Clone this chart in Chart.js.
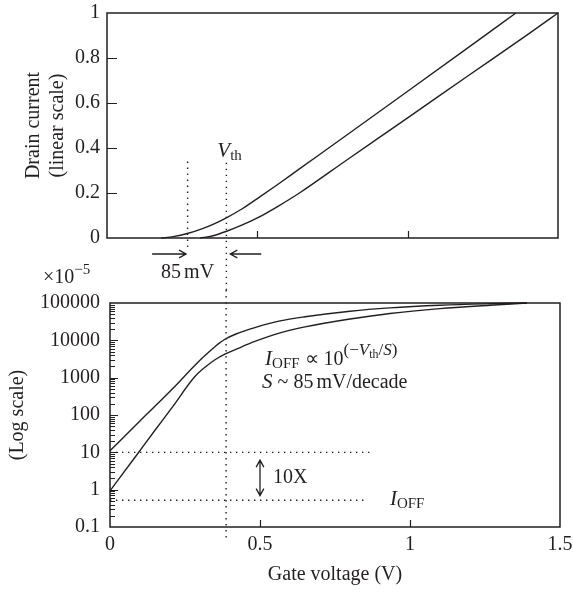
<!DOCTYPE html>
<html>
<head>
<meta charset="utf-8">
<script src="https://cdn.jsdelivr.net/npm/chart.js@4.4.1/dist/chart.umd.min.js"></script>
<style>
  html, body { margin: 0; padding: 0; background: #fff; }
  #wrap { position: relative; width: 573px; height: 592px; }
  canvas { position: absolute; left: 0; }
  #linChart { top: 0; }
  #logChart { top: 290px; }
</style>
</head>
<body>
<div id="wrap">
  <canvas id="linChart" width="573" height="290"></canvas>
  <canvas id="logChart" width="573" height="302"></canvas>
</div>
<script>
// values: gate voltage (V) vs drain current
// "low" = device with the lower threshold (left curve), "high" = shifted by ~85 mV
const linVgLow  = [0.18, 0.22, 0.27, 0.32, 0.36, 0.40, 0.45, 0.50, 0.57, 0.64, 0.80, 1.00, 1.20, 1.36];
const linIdLow  = [0, 0.006, 0.021, 0.043, 0.065, 0.092, 0.130, 0.175, 0.240, 0.307, 0.460, 0.652, 0.845, 1.0];
const linVgHigh = [0.31, 0.35, 0.40, 0.45, 0.50, 0.57, 0.64, 0.80, 1.00, 1.20, 1.40, 1.50];
const linIdHigh = [0, 0.009, 0.031, 0.058, 0.089, 0.142, 0.200, 0.349, 0.534, 0.720, 0.905, 1.0];

// log panel, current in units of 1e-5
const logVgLow  = [0, 0.094, 0.206, 0.294, 0.34, 0.36, 0.383, 0.42, 0.483, 0.567, 0.65, 0.80, 0.933, 1.10, 1.267, 1.39];
const logIdLow  = [11, 62, 480, 2630, 5750, 7900, 10700, 14800, 21900, 33100, 42700, 60300, 74100, 87100, 95500, 100000];
const logVgHigh = [0, 0.089, 0.15, 0.206, 0.283, 0.32, 0.35, 0.383, 0.42, 0.483, 0.567, 0.65, 0.80, 0.933, 1.10, 1.267, 1.39];
const logIdHigh = [0.93, 8.5, 39, 155, 1070, 2000, 3020, 4270, 5750, 9330, 15800, 22900, 37200, 52500, 70800, 87100, 100000];

const linYTicks = [0, 0.2, 0.4, 0.6, 0.8, 1];
const logYTicks = [0.1, 1, 10, 100, 1000, 10000, 100000];
const xTicks = [0, 0.5, 1, 1.5];

const VTH_SHIFTED = 0.268;   // left dotted guide (top panel)
const VTH_TOP = 0.397;       // V_th guide in the top panel
const VTH_BOT = 0.387;       // same guide in the log panel
const IOFF_A = 10, IOFF_B = 0.52;

const INK = '#231f20';
const SERIF = '"Liberation Serif", "Times New Roman", serif';

function pts(xs, ys) { return xs.map((x, i) => ({ x: x, y: ys[i] })); }

const lineStyle = {
  borderColor: INK, borderWidth: 1.4, pointRadius: 0,
  cubicInterpolationMode: 'monotone', fill: false, clip: 4
};

function dotted(ctx, x1, y1, x2, y2) {
  ctx.save();
  ctx.strokeStyle = INK;
  ctx.lineWidth = 1.4;
  ctx.setLineDash([1.4, 4.6]);
  ctx.beginPath(); ctx.moveTo(x1, y1); ctx.lineTo(x2, y2); ctx.stroke();
  ctx.restore();
}

function head(ctx, x, y, ang) {
  const L = 8, w = 0.5;
  ctx.moveTo(x - L * Math.cos(ang - w), y - L * Math.sin(ang - w));
  ctx.lineTo(x, y);
  ctx.lineTo(x - L * Math.cos(ang + w), y - L * Math.sin(ang + w));
}

function arrow(ctx, x1, y1, x2, y2, both) {
  const ang = Math.atan2(y2 - y1, x2 - x1);
  ctx.save();
  ctx.strokeStyle = INK; ctx.lineWidth = 1.3;
  ctx.beginPath();
  ctx.moveTo(x1, y1); ctx.lineTo(x2, y2);
  head(ctx, x2, y2, ang);
  if (both) head(ctx, x1, y1, ang + Math.PI);
  ctx.stroke();
  ctx.restore();
}

// draw a run of text pieces (italics, sub/superscripts) from left to right
function runs(ctx, x, y, parts) {
  ctx.save();
  ctx.fillStyle = INK;
  ctx.textBaseline = 'alphabetic';
  ctx.textAlign = 'left';
  for (const p of parts) {
    ctx.font = (p.it ? 'italic ' : '') + (p.sz || 20) + 'px ' + SERIF;
    ctx.fillText(p.t, x, y + (p.dy || 0));
    x += ctx.measureText(p.t).width + (p.gap || 0);
  }
  ctx.restore();
}

// box round the plot area plus the small inward tick marks
const frame = {
  id: 'frame',
  afterDatasetsDraw(chart, args, opts) {
    const { ctx, chartArea: a, scales } = chart;
    ctx.save();
    ctx.strokeStyle = INK;
    ctx.lineWidth = 1.5;
    ctx.strokeRect(a.left, a.top, a.right - a.left, a.bottom - a.top);
    ctx.lineWidth = 1.2;
    ctx.beginPath();
    for (const m of opts.yMarks) {
      const py = Math.round(scales.y.getPixelForValue(m.v)) + 0.5;
      ctx.moveTo(a.left, py); ctx.lineTo(a.left + m.len, py);
    }
    for (const v of opts.xMarks) {
      const px = Math.round(scales.x.getPixelForValue(v)) + 0.5;
      ctx.moveTo(px, a.bottom); ctx.lineTo(px, a.bottom - 7);
    }
    ctx.stroke();
    ctx.restore();
  }
};

const tickFont = { family: SERIF, size: 20 };
const titleFont = { family: SERIF, size: 20 };

// log panel marks: every 1..9 x decade, longer at decades
const logMarks = [];
for (let d = -1; d <= 4; d++) {
  for (let k = 1; k <= 9; k++) {
    const v = k * Math.pow(10, d);
    if (d === -1 && k === 1) continue;
    logMarks.push({ v: v, len: k === 1 ? 8 : 5 });
  }
}

// keep the chart area where layout.padding puts it
function fitY(w) { return s => { s.width = w; s.paddingTop = 0; s.paddingBottom = 0; }; }
function fitX(h) { return s => { s.height = h; s.paddingLeft = 0; s.paddingRight = 0; }; }

// ---------- top: linear scale ----------
new Chart(document.getElementById('linChart'), {
  type: 'line',
  data: {
    datasets: [
      Object.assign({ label: 'low Vth', data: pts(linVgLow, linIdLow) }, lineStyle),
      Object.assign({ label: 'high Vth', data: pts(linVgHigh, linIdHigh) }, lineStyle)
    ]
  },
  options: {
    responsive: false,
    devicePixelRatio: 1,
    animation: false,
    events: [],
    layout: { padding: { top: 13, right: 15, bottom: 0, left: 0 } },
    plugins: {
      legend: { display: false },
      tooltip: { enabled: false },
      frame: {
        yMarks: linYTicks.slice(1, -1).map(v => ({ v: v, len: 10 })),
        xMarks: [0.5, 1]
      }
    },
    scales: {
      x: {
        type: 'linear', min: 0, max: 1.5,
        ticks: { display: false },
        grid: { display: false, drawTicks: false },
        border: { display: false },
        afterFit: fitX(52)
      },
      y: {
        type: 'linear', min: 0, max: 1,
        afterBuildTicks(s) { s.ticks = linYTicks.map(v => ({ value: v })); },
        ticks: { font: tickFont, color: INK, padding: 7, autoSkip: false, callback: v => String(v) },
        grid: { display: false, drawTicks: false },
        border: { display: false },
        title: {
          display: true, text: ['Drain current', '(linear scale)'],
          font: titleFont, color: INK, padding: { top: 22, bottom: 0 }
        },
        afterFit: fitY(107)
      }
    }
  },
  plugins: [frame, {
    id: 'linNotes',
    afterDraw(chart) {
      const { ctx, chartArea: a, scales: { x, y } } = chart;
      dotted(ctx, x.getPixelForValue(VTH_SHIFTED), y.getPixelForValue(0.34), x.getPixelForValue(VTH_SHIFTED), a.bottom + 12);
      dotted(ctx, x.getPixelForValue(VTH_TOP), y.getPixelForValue(0.335), x.getPixelForValue(VTH_TOP), chart.height);
      runs(ctx, x.getPixelForValue(0.367), y.getPixelForValue(0.36), [
        { t: 'V', it: true, sz: 21 }, { t: 'th', sz: 15, dy: 3 }
      ]);
      const ay = a.bottom + 16;
      arrow(ctx, x.getPixelForValue(0.15), ay, x.getPixelForValue(0.263), ay);
      arrow(ctx, x.getPixelForValue(0.513), ay, x.getPixelForValue(0.41), ay);
      runs(ctx, x.getPixelForValue(0.18), a.bottom + 40, [
        { t: '85', gap: 3 }, { t: 'mV' }
      ]);
      // exponent marker of the log panel below
      runs(ctx, 43, 283, [
        { t: '×10' }, { t: '−5', sz: 15, dy: -9 }
      ]);
    }
  }]
});

// ---------- bottom: log scale ----------
new Chart(document.getElementById('logChart'), {
  type: 'line',
  data: {
    datasets: [
      Object.assign({ label: 'low Vth', data: pts(logVgLow, logIdLow) }, lineStyle),
      Object.assign({ label: 'high Vth', data: pts(logVgHigh, logIdHigh) }, lineStyle)
    ]
  },
  options: {
    responsive: false,
    devicePixelRatio: 1,
    animation: false,
    events: [],
    layout: { padding: { top: 13, right: 13, bottom: 0, left: 0 } },
    plugins: {
      legend: { display: false },
      tooltip: { enabled: false },
      frame: { yMarks: logMarks, xMarks: [0.5, 1] }
    },
    scales: {
      x: {
        type: 'linear', min: 0, max: 1.5,
        afterBuildTicks(s) { s.ticks = xTicks.map(v => ({ value: v })); },
        ticks: { font: tickFont, color: INK, padding: 6, autoSkip: false, maxRotation: 0, callback: v => String(v) },
        grid: { display: false, drawTicks: false },
        border: { display: false },
        title: {
          display: true, text: 'Gate voltage (V)',
          font: titleFont, color: INK, padding: { top: 0, bottom: 5 }
        },
        afterFit: fitX(65)
      },
      y: {
        type: 'logarithmic', min: 0.1, max: 100000,
        afterBuildTicks(s) { s.ticks = logYTicks.map(v => ({ value: v })); },
        ticks: { font: tickFont, color: INK, padding: 10, autoSkip: false, callback: v => String(v) },
        grid: { display: false, drawTicks: false },
        border: { display: false },
        title: {
          display: true, text: '(Log scale)',
          font: titleFont, color: INK, padding: { top: 6, bottom: 0 }
        },
        afterFit: fitY(110)
      }
    }
  },
  plugins: [frame, {
    id: 'logNotes',
    afterDraw(chart) {
      const { ctx, chartArea: a, scales: { x, y } } = chart;
      const vx = x.getPixelForValue(VTH_BOT);
      dotted(ctx, vx, 0, vx, a.bottom + 11);
      const yA = y.getPixelForValue(IOFF_A), yB = y.getPixelForValue(IOFF_B);
      dotted(ctx, a.left, yA, x.getPixelForValue(0.873), yA);
      dotted(ctx, a.left, yB, x.getPixelForValue(0.847), yB);
      const dx = x.getPixelForValue(0.5);
      arrow(ctx, dx, y.getPixelForValue(0.69), dx, y.getPixelForValue(6.2), true);
      runs(ctx, x.getPixelForValue(0.543), (yA + yB) / 2 + 7, [{ t: '10X' }]);
      runs(ctx, x.getPixelForValue(0.933), yB + 4.5, [
        { t: 'I', it: true, sz: 21 }, { t: 'OFF', sz: 15, dy: 3 }
      ]);
      runs(ctx, x.getPixelForValue(0.517), y.getPixelForValue(2200), [
        { t: 'I', it: true, sz: 21 }, { t: 'OFF', sz: 15, dy: 3, gap: 5 },
        { t: '∝ 10' },
        { t: '(−', sz: 17, dy: -10 }, { t: 'V', it: true, sz: 17, dy: -10 },
        { t: 'th', sz: 12, dy: -7 }, { t: '/', sz: 17, dy: -10 },
        { t: 'S', it: true, sz: 17, dy: -10 }, { t: ')', sz: 17, dy: -10 }
      ]);
      runs(ctx, x.getPixelForValue(0.507), y.getPixelForValue(540), [
        { t: 'S', it: true, sz: 21, gap: 5 }, { t: '~', gap: 5 }, { t: '85', gap: 3 }, { t: 'mV/decade' }
      ]);
    }
  }]
});
</script>
</body>
</html>
